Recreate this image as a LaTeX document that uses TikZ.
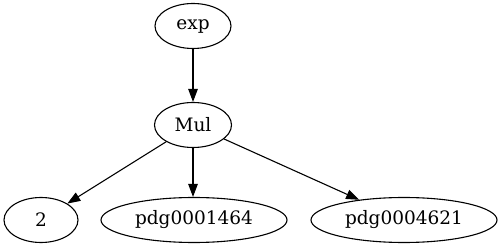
\documentclass[tikz,border=0pt]{standalone}
\usepackage{fontspec}
\setmainfont{DejaVu Serif}
\usetikzlibrary{shapes.geometric,arrows.meta}
\begin{document}
\begin{tikzpicture}[x=1pt,y=1pt,
  nd/.style={draw,ellipse,line width=1.1pt,inner sep=0pt,minimum height=45pt,font=\fontsize{18.5}{20}\selectfont},
  edge/.style={line width=1.1pt,-{Triangle[length=13pt,width=9.5pt]}}]
\useasboundingbox (0,0) rectangle (502,251);
\node[nd,minimum width=76pt] (exp) at (193,225) {exp};
\node[nd,minimum width=77pt] (mul) at (193,126) {Mul};
\node[nd,minimum width=74pt] (two) at (41,31) {2};
\node[nd,minimum width=186pt] (p1) at (194,31) {pdg0001464};
\node[nd,minimum width=186pt] (p2) at (404,31) {pdg0004621};
\draw[edge] (exp) -- (mul);
\draw[edge] (mul) -- (two);
\draw[edge] (mul.south) -- (mul.south |- p1.north);
\draw[edge] (mul) -- (p2);
\end{tikzpicture}
\end{document}
